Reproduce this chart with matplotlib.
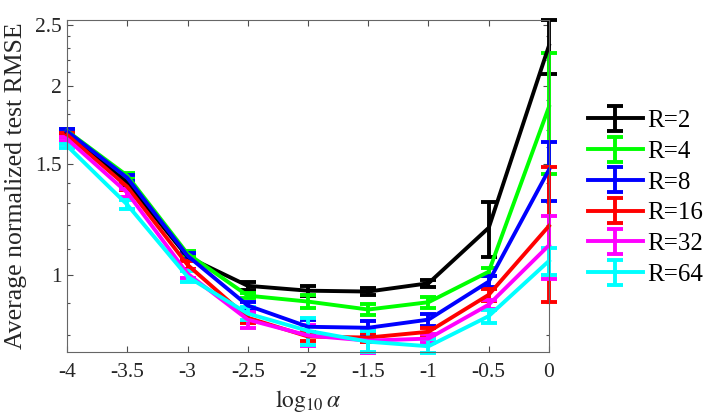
import matplotlib
matplotlib.use('Agg')
import matplotlib.pyplot as plt
from matplotlib.ticker import FixedLocator, FixedFormatter, NullFormatter

# log10 of the regularisation parameter
alpha = [-4, -3.5, -3, -2.5, -2, -1.5, -1, -0.5, 0]

labels = ['R=2', 'R=4', 'R=8', 'R=16', 'R=32', 'R=64']
colors = ['black', '#00ff00', 'blue', 'red', 'magenta', 'cyan']

# average normalized test RMSE for each R
rmse_r2 = [1.684, 1.401, 1.068, 0.960, 0.943, 0.940, 0.969, 1.188, 2.318]
rmse_r4 = [1.695, 1.438, 1.080, 0.926, 0.906, 0.880, 0.904, 1.011, 1.852]
rmse_r8 = [1.692, 1.427, 1.072, 0.893, 0.826, 0.823, 0.848, 0.975, 1.470]
rmse_r16 = [1.671, 1.381, 1.037, 0.854, 0.797, 0.794, 0.811, 0.929, 1.196]
rmse_r32 = [1.646, 1.351, 1.004, 0.848, 0.800, 0.785, 0.791, 0.896, 1.114]
rmse_r64 = [1.605, 1.293, 0.993, 0.867, 0.814, 0.782, 0.769, 0.859, 1.052]

# error bar half-widths
err_r2 = [0.012, 0.012, 0.012, 0.015, 0.018, 0.013, 0.013, 0.120, 0.229]
err_r4 = [0.012, 0.015, 0.012, 0.008, 0.022, 0.018, 0.018, 0.015, 0.404]
err_r8 = [0.012, 0.015, 0.012, 0.012, 0.020, 0.020, 0.019, 0.020, 0.159]
err_r16 = [0.012, 0.015, 0.015, 0.015, 0.012, 0.012, 0.010, 0.020, 0.290]
err_r32 = [0.012, 0.020, 0.015, 0.025, 0.030, 0.035, 0.012, 0.015, 0.128]
err_r64 = [0.012, 0.020, 0.020, 0.020, 0.040, 0.030, 0.020, 0.020, 0.052]

rmse = [rmse_r2, rmse_r4, rmse_r8, rmse_r16, rmse_r32, rmse_r64]
errs = [err_r2, err_r4, err_r8, err_r16, err_r32, err_r64]

yticks = [1, 1.5, 2, 2.5]
yminor = [0.8, 0.9, 1.1, 1.2, 1.3, 1.4, 1.6, 1.7, 1.8, 1.9,
          2.1, 2.2, 2.3, 2.4]
xticks = [-4, -3.5, -3, -2.5, -2, -1.5, -1, -0.5, 0]

plt.rcParams['font.family'] = ['Liberation Serif', 'DejaVu Serif']
plt.rcParams['mathtext.fontset'] = 'stix'
plt.rcParams['axes.unicode_minus'] = False

fig = plt.figure(figsize=(7.06, 4.15), dpi=100)
ax = fig.add_axes([67 / 706, 63 / 415, 482 / 706, 332 / 415])

for y, e, c, lab in zip(rmse, errs, colors, labels):
    ax.errorbar(alpha, y, yerr=e, color=c, lw=2.8, capsize=6,
                capthick=2.8, elinewidth=2.8, label=lab, clip_on=False)

ax.set_yscale('log')
ax.set_xlim(-4, 0)
ax.set_ylim(0.753, 2.546)

ax.yaxis.set_major_locator(FixedLocator(yticks))
ax.yaxis.set_major_formatter(FixedFormatter(['1', '1.5', '2', '2.5']))
ax.yaxis.set_minor_locator(FixedLocator(yminor))
ax.yaxis.set_minor_formatter(NullFormatter())
ax.set_xticks(xticks)
ax.set_xticklabels(['-4', '-3.5', '-3', '-2.5', '-2', '-1.5', '-1',
                    '-0.5', '0'])

ax.tick_params(which='both', direction='in', top=True, right=True,
               colors='0.3', labelcolor='0.15', labelsize=15.5)
ax.tick_params(which='major', length=4, width=0.8)
ax.tick_params(which='minor', length=2.5, width=0.8)
ax.tick_params(axis='x', pad=8)
for s in ax.spines.values():
    s.set_color('0.4')
    s.set_linewidth(0.8)

ax.set_xlabel(r'$\mathrm{log}_{10}\,\alpha$', fontsize=17, color='0.15')
ax.set_ylabel('Average normalized test RMSE', fontsize=18.5, color='0.15',
              labelpad=6)

ax.legend(loc='upper left', bbox_to_anchor=(1.08, 0.73), frameon=False,
          fontsize=18, borderpad=0, borderaxespad=0, handlelength=2.2,
          handletextpad=0.2, labelspacing=0.33)

plt.savefig('out.png', dpi=100)
